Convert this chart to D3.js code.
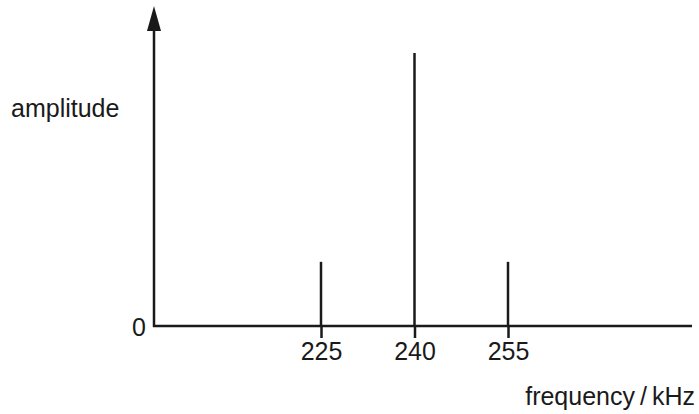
<!DOCTYPE html>
<html><head><meta charset="utf-8">
<script src="https://cdn.jsdelivr.net/npm/d3@7"></script>
<style>
html,body{margin:0;padding:0;background:#fff;}
svg{display:block;font-family:"Liberation Sans",Arial,sans-serif;}
</style></head>
<body>
<svg id="c" width="699" height="414"></svg>
<script>
const frequencies = [225, 240, 255];
const amplitudes = [0.235, 1, 0.235];
const tickLabels = ["225", "240", "255"];
const yLabel = "amplitude";
const xLabel = "frequency\u2009/\u2009kHz";

const svg = d3.select("#c");
const ink = "#1a1a1a";
const fs = 25;
const x = d3.scaleLinear().domain([225, 255]).range([321, 508]);
const y = d3.scaleLinear().domain([0, 1]).range([326, 53]);
const axisX0 = 154, axisX1 = 692, arrowTip = 6, arrowBase = 31;

// spectral lines
svg.selectAll("line.bar").data(frequencies).join("line")
  .attr("class", "bar")
  .attr("x1", d => x(d)).attr("x2", d => x(d))
  .attr("y1", y(0)).attr("y2", (d, i) => y(amplitudes[i]))
  .attr("stroke", ink).attr("stroke-width", 2.5);

// x axis ticks and labels
const gx = svg.append("g").attr("transform", `translate(0,${y(0)})`)
  .call(d3.axisBottom(x).tickValues(frequencies).tickSize(12).tickPadding(4)
    .tickFormat((d, i) => tickLabels[i]));
gx.select(".domain").remove();
gx.selectAll(".tick line").attr("stroke", ink).attr("stroke-width", 2.5);
gx.selectAll(".tick text").attr("fill", ink).attr("font-size", fs)
  .attr("font-family", "Liberation Sans, Arial, sans-serif");

// axis lines
svg.append("line").attr("x1", axisX0 - 1).attr("x2", axisX1)
  .attr("y1", y(0)).attr("y2", y(0)).attr("stroke", ink).attr("stroke-width", 2.5);
svg.append("line").attr("x1", axisX0).attr("x2", axisX0)
  .attr("y1", y(0) + 1).attr("y2", arrowBase).attr("stroke", ink).attr("stroke-width", 2.5);
svg.append("path")
  .attr("d", `M${axisX0},${arrowTip} L${axisX0 + 7},${arrowBase} L${axisX0 - 7},${arrowBase} Z`)
  .attr("fill", ink);

// labels
svg.append("text").attr("x", 146).attr("y", y(0) + 10).attr("text-anchor", "end")
  .attr("font-size", fs).attr("fill", ink).text("0");
svg.append("text").attr("x", 11).attr("y", 117)
  .attr("font-size", fs).attr("fill", ink).text(yLabel);
svg.append("text").attr("x", 695).attr("y", 405).attr("text-anchor", "end")
  .attr("font-size", fs).attr("fill", ink).text(xLabel);
</script>
</body></html>
